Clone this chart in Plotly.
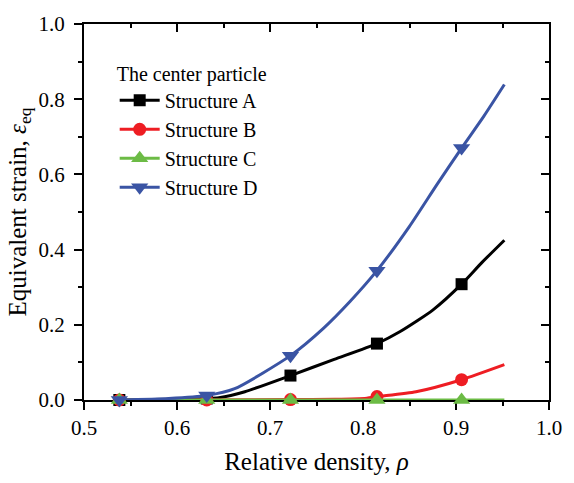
import plotly.graph_objects as go

# ---- data ----
marker_rho = [0.538, 0.632, 0.722, 0.815, 0.906]

a_x = [0.538, 0.632, 0.645, 0.673, 0.722, 0.769, 0.815, 0.840, 0.875, 0.906, 0.928, 0.952]
a_y = [0.000, 0.004, 0.006, 0.022, 0.065, 0.108, 0.150, 0.182, 0.239, 0.308, 0.366, 0.425]
a_m = [0.000, 0.004, 0.065, 0.150, 0.308]

b_x = [0.538, 0.632, 0.722, 0.770, 0.804, 0.815, 0.857, 0.906, 0.952]
b_y = [0.000, 0.000, 0.001, 0.002, 0.005, 0.009, 0.022, 0.054, 0.094]
b_m = [0.000, 0.000, 0.001, 0.009, 0.054]

c_x = [0.538, 0.632, 0.722, 0.815, 0.906, 0.952]
c_y = [0.000, 0.000, 0.000, 0.000, 0.000, 0.000]
c_m = [0.000, 0.000, 0.000, 0.000, 0.000]

d_x = [0.538, 0.591, 0.632, 0.662, 0.722, 0.758, 0.786, 0.815, 0.850, 0.880, 0.906, 0.930, 0.952]
d_y = [0.000, 0.004, 0.012, 0.030, 0.118, 0.192, 0.262, 0.344, 0.462, 0.575, 0.670, 0.755, 0.839]
d_m = [0.000, 0.012, 0.118, 0.344, 0.670]

names = ["Structure A", "Structure B", "Structure C", "Structure D"]
colors = ["#000000", "#EE1D23", "#6CBB45", "#3A54A4"]
symbols = ["square", "circle", "triangle-up", "triangle-down"]
msizes = [12, 13, 15, 15]

FONT = "Times New Roman"

fig = go.Figure()
series = [(a_x, a_y, a_m), (b_x, b_y, b_m), (c_x, c_y, c_m), (d_x, d_y, d_m)]
for (lx, ly, my), name, col, sym, ms in zip(series, names, colors, symbols, msizes):
    fig.add_trace(go.Scatter(x=lx, y=ly, mode="lines", cliponaxis=False,
                             line=dict(color=col, width=3, shape="spline", smoothing=0.6),
                             showlegend=False, hoverinfo="skip"))
    fig.add_trace(go.Scatter(x=marker_rho, y=my, mode="markers", cliponaxis=False,
                             marker=dict(color=col, symbol=sym, size=ms, line=dict(width=0)),
                             showlegend=False))
    fig.add_trace(go.Scatter(x=[None], y=[None], mode="lines+markers", name=name,
                             line=dict(color=col, width=3),
                             marker=dict(color=col, symbol=sym, size=ms, line=dict(width=0))))

axis_common = dict(showline=True, linecolor="black", linewidth=2, showgrid=False, zeroline=False,
                   layer="below traces")

fig.update_layout(
    width=574, height=483,
    margin=dict(l=84, r=20, t=16, b=83),
    plot_bgcolor="white", paper_bgcolor="white",
    font=dict(family=FONT, size=21, color="black"),
    xaxis=dict(range=[0.5, 1.0], tickvals=[0.5, 0.6, 0.7, 0.8, 0.9, 1.0],
               ticktext=["0.5", "0.6", "0.7", "0.8", "0.9", "1.0"],
               ticks="outside", ticklen=8, tickwidth=2, tickcolor="black",
               minor=dict(dtick=0.05, tick0=0.5, ticks="outside", ticklen=4, tickwidth=1.5, tickcolor="black"),
               title=dict(text="Relative density, <i>ρ</i>", standoff=13),
               **axis_common),
    yaxis=dict(range=[0, 1.0], tickvals=[0, 0.2, 0.4, 0.6, 0.8, 1.0],
               ticktext=["0.0", "0.2", "0.4", "0.6", "0.8", "1.0"],
               ticks="outside", ticklen=8, tickwidth=2, tickcolor="black", ticklabelstandoff=5,
               minor=dict(dtick=0.1, tick0=0, ticks="outside", ticklen=4, tickwidth=1.5, tickcolor="black"),
               title=dict(text="Equivalent strain, <i>ε</i><sub>eq</sub>", standoff=5),
               **axis_common),
    xaxis2=dict(range=[0.5, 1.0], overlaying="x", side="top", tickvals=[0.5, 0.6, 0.7, 0.8, 0.9, 1.0],
                showticklabels=False, ticks="inside", ticklen=8, tickwidth=2, tickcolor="black",
                minor=dict(dtick=0.05, tick0=0.5, ticks="inside", ticklen=4, tickwidth=1.5, tickcolor="black"),
                **axis_common),
    yaxis2=dict(range=[0, 1.0], overlaying="y", side="right", tickvals=[0, 0.2, 0.4, 0.6, 0.8, 1.0],
                showticklabels=False, ticks="inside", ticklen=8, tickwidth=2, tickcolor="black",
                minor=dict(dtick=0.1, tick0=0, ticks="inside", ticklen=4, tickwidth=1.5, tickcolor="black"),
                **axis_common),
    legend=dict(x=0.066, y=0.918, xanchor="left", yanchor="top",
                bgcolor="rgba(0,0,0,0)", borderwidth=0,
                title=dict(text="The center particle", font=dict(size=20)),
                font=dict(size=20), tracegroupgap=0, itemwidth=40),
)
# dummy trace to activate the mirrored axes
fig.add_trace(go.Scatter(x=[None], y=[None], xaxis="x2", yaxis="y2", showlegend=False))

fig.write_html("out.html")
